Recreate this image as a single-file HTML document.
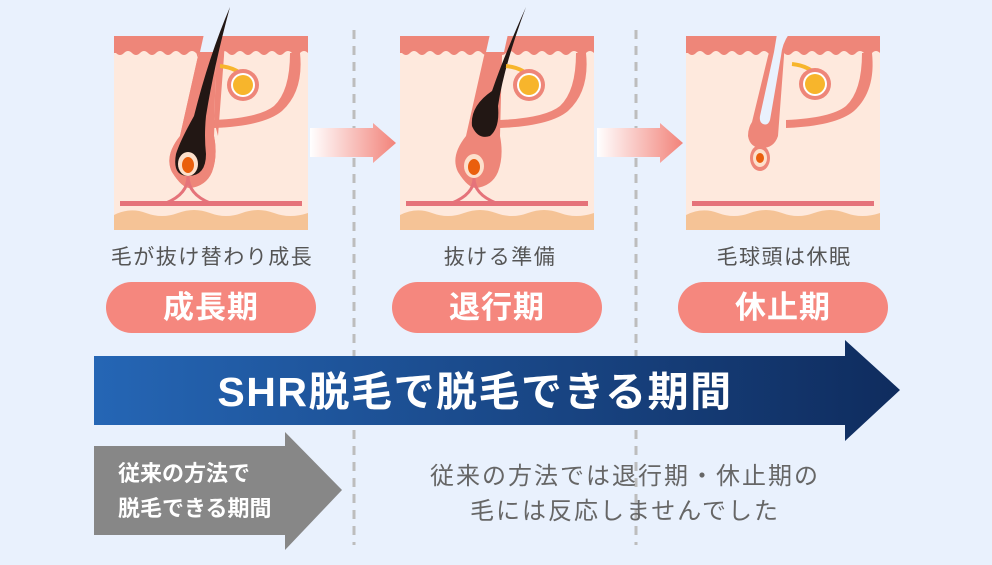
<!DOCTYPE html>
<html><head><meta charset="utf-8"><style>
html,body{margin:0;padding:0;}
body{width:992px;height:560px;background:#e9f1fd;overflow:hidden;font-family:"Liberation Sans","Noto Sans CJK JP",sans-serif;}
</style></head><body>
<svg width="992" height="560" viewBox="0 0 992 560" xmlns="http://www.w3.org/2000/svg" font-family="Liberation Sans, Noto Sans CJK JP, sans-serif">
<defs>
<linearGradient id="pk" x1="0" x2="1"><stop offset="0" stop-color="#fff"/><stop offset="1" stop-color="#f2837a"/></linearGradient>
<linearGradient id="bl" x1="0" x2="1"><stop offset="0" stop-color="#2566b5"/><stop offset="1" stop-color="#0f2c5e"/></linearGradient>
<g id="skin">
<rect x="0" y="0" width="194" height="194" fill="#fee9dd"/>
<path d="M0 0H194V17Q190 13 186 17T178 17T170 17T162 17T154 17T146 17T138 17T130 17T122 17T114 17T106 17T98 17T90 17T82 17T74 17T66 17T58 17T50 17T42 17T34 17T26 17T18 17T10 17T2 17L0 17Z" fill="#ee8679"/>
<path d="M0 179Q16 171 32 177T64 177T96 177T128 177T160 177T194 177V194H0Z" fill="#f5c396"/>
<rect x="6" y="165" width="182" height="5" fill="#e5737a"/>
<path d="M186 17Q190 55 168 75Q150 90 100 92L100 84Q145 82 160 70Q176 55 176 17Z" fill="#ee8679"/>
</g>
</defs>

<line x1="354" y1="30" x2="354" y2="545" stroke="#bdbdbd" stroke-width="3" stroke-dasharray="9 7"/>
<line x1="636" y1="30" x2="636" y2="545" stroke="#bdbdbd" stroke-width="3" stroke-dasharray="9 7"/>

<!-- panel 1 -->
<g transform="translate(114,36)">
<use href="#skin"/>
<path d="M78 0H90L84 20L66 100Q50 120 58 136Q68 152 76 152Q92 150 98 136Q104 120 100 100L102 20L108 0H120Q110 6 110 20L104 100Z" fill="#ee8679"/>
<path d="M90 0H108Q102 8 102 20L100 100Q104 120 98 136Q92 150 76 152Q68 152 58 136Q50 120 66 100L84 20Z" fill="#ee8679"/>
<path d="M90 -2H108L104 16H86Z" fill="#e9f1fd"/>
<path d="M116 -29Q95 20 80 80Q66 105 62 118Q58 140 74 140Q92 140 92 118Q90 100 92 80Q100 30 116 -29Z" fill="#221714"/>
<ellipse cx="74" cy="128" rx="10" ry="12" fill="#fde0cc"/>
<ellipse cx="74" cy="129" rx="6" ry="8" fill="#ea5f0d"/>
<path d="M74 140Q74 158 52 167M74 140Q74 158 96 167" stroke="#e5737a" stroke-width="3" fill="none"/>
<path d="M106 30Q125 32 132 44" stroke="#f7b52c" stroke-width="4" fill="none"/>
<circle cx="129" cy="49" r="16" fill="#ee8679"/>
<circle cx="129" cy="49" r="12" fill="#fff"/>
<circle cx="129" cy="49" r="10" fill="#f7b52c"/>
</g>

<!-- panel 2 -->
<g transform="translate(400,36)">
<use href="#skin"/>
<path d="M90 0H108Q102 8 102 20L100 100Q104 120 98 136Q92 150 76 152Q68 152 58 136Q50 120 66 100L84 20Z" fill="#ee8679"/>
<path d="M90 -2H108L104 16H86Z" fill="#e9f1fd"/>
<path d="M126 -29Q104 20 92 55Q70 70 72 90Q78 104 90 100Q100 92 98 70Q104 30 126 -29Z" fill="#221714"/>
<ellipse cx="74" cy="130" rx="10" ry="12" fill="#fde0cc"/>
<ellipse cx="74" cy="131" rx="6" ry="8" fill="#ea5f0d"/>
<path d="M74 142Q74 158 52 167M74 142Q74 158 96 167" stroke="#e5737a" stroke-width="3" fill="none"/>
<path d="M106 30Q125 32 132 44" stroke="#f7b52c" stroke-width="4" fill="none"/>
<circle cx="129" cy="49" r="16" fill="#ee8679"/>
<circle cx="129" cy="49" r="12" fill="#fff"/>
<circle cx="129" cy="49" r="10" fill="#f7b52c"/>
</g>

<!-- panel 3 -->
<g transform="translate(686,36)">
<use href="#skin"/>
<path d="M88 0H106Q98 8 98 20L92 100Q88 112 76 112Q64 112 62 100Q62 92 66 86L82 20Z" fill="#ee8679"/>
<path d="M91 -2H103Q96 8 95 20L84 84Q82 90 77 88Q73 86 74 80L88 16Z" fill="#e9f1fd"/>
<ellipse cx="74" cy="122" rx="10" ry="13" fill="#ee8679"/>
<ellipse cx="74" cy="122" rx="7" ry="9" fill="#fde0cc"/>
<ellipse cx="74" cy="122" rx="4" ry="5" fill="#ea5f0d"/>
<path d="M106 28Q125 30 132 42" stroke="#f7b52c" stroke-width="4" fill="none"/>
<circle cx="129" cy="48" r="16" fill="#ee8679"/>
<circle cx="129" cy="48" r="12" fill="#fff"/>
<circle cx="129" cy="48" r="10" fill="#f7b52c"/>
</g>

<path d="M310 128H373V123L396 143L373 163V157H310Z" fill="url(#pk)"/>
<path d="M597 128H660V123L683 143L660 163V157H597Z" fill="url(#pk)"/>

<g font-size="21" fill="#555" text-anchor="middle" letter-spacing="1.5">
<text x="212" y="264">毛が抜け替わり成長</text>
<text x="500" y="264">抜ける準備</text>
<text x="784" y="264">毛球頭は休眠</text>
</g>
<rect x="106" y="282" width="210" height="51" rx="25.5" fill="#f5877e"/>
<rect x="392" y="282" width="210" height="51" rx="25.5" fill="#f5877e"/>
<rect x="678" y="282" width="210" height="51" rx="25.5" fill="#f5877e"/>
<g font-size="31" font-weight="bold" fill="#fff" text-anchor="middle" letter-spacing="1">
<text x="211" y="318">成長期</text>
<text x="497" y="318">退行期</text>
<text x="783" y="318">休止期</text>
</g>

<path d="M94 356H845V340L900 390L845 441V425H94Z" fill="url(#bl)"/>
<text x="475" y="406" font-size="41" font-weight="bold" fill="#fff" text-anchor="middle" letter-spacing="1.5">SHR脱毛で脱毛できる期間</text>

<path d="M94 446H285V432L342 490L285 550V535H94Z" fill="#878787"/>
<g font-size="22" font-weight="bold" fill="#fff">
<text x="118" y="481">従来の方法で</text>
<text x="118" y="516">脱毛できる期間</text>
</g>

<g font-size="24" fill="#666" text-anchor="middle" letter-spacing="2">
<text x="625" y="484">従来の方法では退行期・休止期の</text>
<text x="625" y="519">毛には反応しませんでした</text>
</g>
</svg>
</body></html>
